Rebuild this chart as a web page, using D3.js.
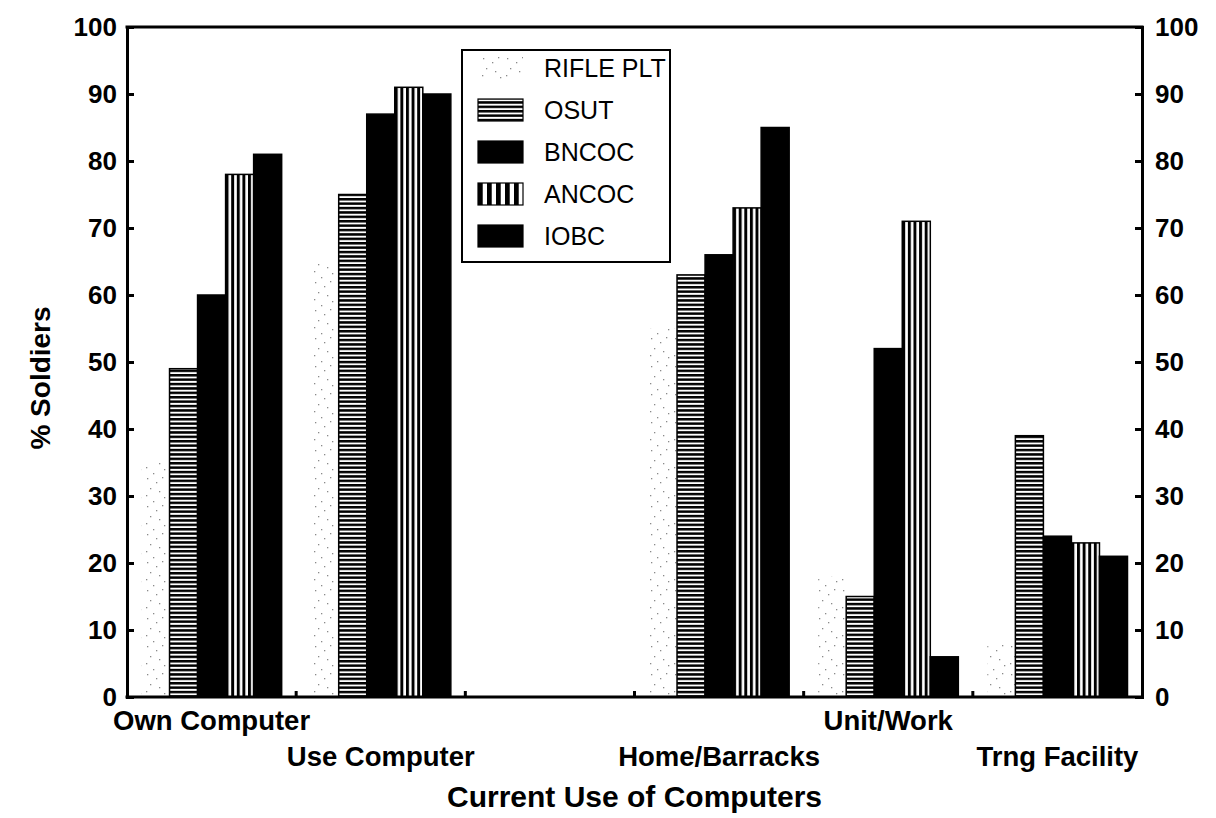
<!DOCTYPE html>
<html><head><meta charset="utf-8">
<script src="https://cdn.jsdelivr.net/npm/d3@7"></script>
<style>
html,body{margin:0;padding:0;background:#fff;}
svg{display:block;font-family:"Liberation Sans",Arial,sans-serif;}
</style></head>
<body>
<svg id="chart" width="1216" height="818"></svg>
<script>
// ---- data ----
const categories = ["Own Computer", "Use Computer", " ", "Home/Barracks", "Unit/Work", "Trng Facility"];
const labelRow = [0, 1, 0, 1, 0, 1];
const seriesNames = ["RIFLE PLT", "OSUT", "BNCOC", "ANCOC", "IOBC"];
const riflePlt = [35, 65, null, 55, 18, 8];
const osut     = [49, 75, null, 63, 15, 39];
const bncoc    = [60, 87, null, 66, 52, 24];
const ancoc    = [78, 91, null, 73, 71, 23];
const iobc     = [81, 90, null, 85, 6, 21];
const seriesValues = [riflePlt, osut, bncoc, ancoc, iobc];
const yTicks = [0, 10, 20, 30, 40, 50, 60, 70, 80, 90, 100];
const xTitle = "Current Use of Computers";
const yTitle = "% Soldiers";

// ---- layout ----
const L = 127, R = 1142, T = 27, B = 697;
const svg = d3.select("#chart");
const defs = svg.append("defs");

// patterns
const pDots = defs.append("pattern").attr("id", "pDots").attr("patternUnits", "userSpaceOnUse")
  .attr("width", 24).attr("height", 28);
[[3,2],[12,6],[18,1],[6,12],[15,15],[2,19],[20,21],[9,25]].forEach(d => {
  pDots.append("rect").attr("x", d[0]).attr("y", d[1]).attr("width", 1.3).attr("height", 1.3).attr("fill", "#8a8a8a");
});
const pH = defs.append("pattern").attr("id", "pH").attr("patternUnits", "userSpaceOnUse")
  .attr("width", 10).attr("height", 4.4);
pH.append("rect").attr("width", 10).attr("height", 4.4).attr("fill", "#fff");
pH.append("rect").attr("width", 10).attr("height", 2.5).attr("fill", "#000");
const pV = defs.append("pattern").attr("id", "pV").attr("patternUnits", "objectBoundingBox")
  .attr("patternContentUnits", "objectBoundingBox").attr("width", 0.2).attr("height", 1);
pV.append("rect").attr("width", 0.2).attr("height", 1).attr("fill", "#fff");
pV.append("rect").attr("width", 0.105).attr("height", 1).attr("fill", "#000");

const fills = ["url(#pDots)", "url(#pH)", "#000", "url(#pV)", "#000"];
const strokes = ["none", "#000", "#000", "#000", "#000"];

const x = d3.scaleBand().domain(categories).range([L, R]).paddingInner(0).paddingOuter(0);
const bw = x.bandwidth();
const xs = d3.scaleBand().domain(seriesNames).range([14.5, bw - 14.5]).padding(0);
const y = d3.scaleLinear().domain([0, 100]).range([B, T]);

// bars
const rows = [];
categories.forEach((c, i) => seriesNames.forEach((s, j) => {
  const v = seriesValues[j][i];
  if (v != null) rows.push({c, s, j, v});
}));
svg.append("g").selectAll("rect").data(rows).join("rect")
  .attr("x", d => x(d.c) + xs(d.s))
  .attr("y", d => y(d.v))
  .attr("width", xs.bandwidth())
  .attr("height", d => y(0) - y(d.v))
  .attr("fill", d => fills[d.j])
  .attr("stroke", d => strokes[d.j])
  .attr("stroke-width", 1.5);

// axes
const axL = svg.append("g").attr("transform", `translate(${L},0)`)
  .call(d3.axisRight(y).tickValues(yTicks).tickSize(7).tickFormat(""));
const axR = svg.append("g").attr("transform", `translate(${R},0)`)
  .call(d3.axisLeft(y).tickValues(yTicks).tickSize(7).tickFormat(""));
[axL, axR].forEach(a => {
  a.select(".domain").attr("stroke-width", 3).attr("stroke", "#000");
  a.selectAll(".tick line").attr("stroke-width", 3).attr("stroke", "#000");
});
// bottom & top lines
const xb = d3.scaleLinear().domain([0, categories.length]).range([L, R]);
svg.append("line").attr("x1", L - 1.5).attr("x2", R + 1.5).attr("y1", B).attr("y2", B)
  .attr("stroke", "#000").attr("stroke-width", 3);
svg.append("line").attr("x1", L - 1.5).attr("x2", R + 1.5).attr("y1", T).attr("y2", T)
  .attr("stroke", "#000").attr("stroke-width", 3);
svg.append("g").selectAll("line").data(d3.range(1, categories.length)).join("line")
  .attr("x1", d => xb(d)).attr("x2", d => xb(d)).attr("y1", B).attr("y2", B - 6)
  .attr("stroke", "#000").attr("stroke-width", 3);

// tick labels
svg.append("g").selectAll("text").data(yTicks).join("text")
  .attr("x", 117).attr("y", d => y(d)).attr("dy", "0.36em")
  .attr("text-anchor", "end").attr("font-size", 26).attr("font-weight", "bold").text(d => d);
svg.append("g").selectAll("text").data(yTicks).join("text")
  .attr("x", 1155).attr("y", d => y(d)).attr("dy", "0.36em")
  .attr("text-anchor", "start").attr("font-size", 26).attr("font-weight", "bold").text(d => d);

// category labels
svg.append("g").selectAll("text").data(categories).join("text")
  .attr("x", d => x(d) + bw / 2)
  .attr("y", (d, i) => labelRow[i] ? 766 : 730)
  .attr("text-anchor", "middle").attr("font-size", 27.5).attr("font-weight", "bold").text(d => d.trim());

// titles
svg.append("text").attr("x", (L + R) / 2).attr("y", 807).attr("text-anchor", "middle")
  .attr("font-size", 30).attr("font-weight", "bold").text(xTitle);
svg.append("text").attr("transform", "translate(50,378) rotate(-90)").attr("text-anchor", "middle")
  .attr("font-size", 28).attr("font-weight", "bold").text(yTitle);

// legend
const lg = svg.append("g");
lg.append("rect").attr("x", 462).attr("y", 50).attr("width", 208).attr("height", 212)
  .attr("fill", "#fff").attr("stroke", "#000").attr("stroke-width", 2);
const ly = d3.scalePoint().domain(seriesNames).range([68, 236]);
seriesNames.forEach((s, j) => {
  lg.append("rect").attr("x", 478).attr("y", ly(s) - 11).attr("width", 45).attr("height", 22)
    .attr("fill", fills[j]).attr("stroke", j === 0 ? "none" : "#000").attr("stroke-width", 1.2);
  lg.append("text").attr("x", 544).attr("y", ly(s)).attr("dy", "0.36em")
    .attr("font-size", 25).text(s);
});
</script>
</body></html>
